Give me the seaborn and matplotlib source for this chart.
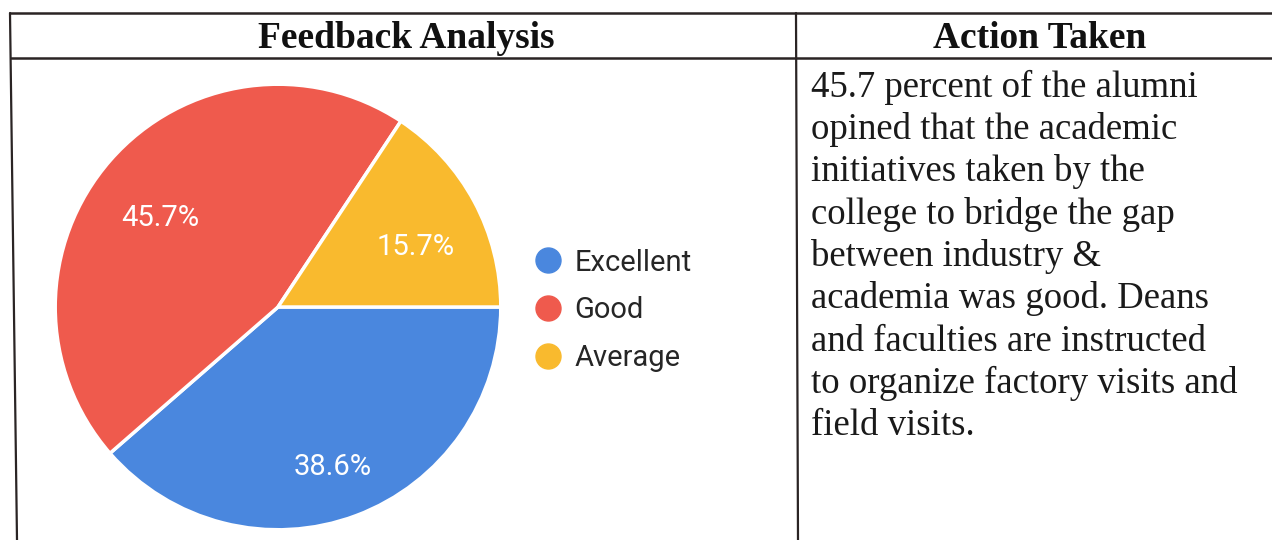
import matplotlib
matplotlib.use("Agg")
import matplotlib.pyplot as plt
from matplotlib.lines import Line2D
import seaborn as sns

# ---- data ----
categories = ["Excellent", "Good", "Average"]
values = [38.6, 45.7, 15.7]
colors = ["#4a87de", "#ef5a4d", "#f9ba2e"]
header_left = "Feedback Analysis"
header_right = "Action Taken"
action_lines = [
    "45.7 percent of the alumni",
    "opined that the academic",
    "initiatives taken by the",
    "college to bridge the gap",
    "between industry &",
    "academia was good. Deans",
    "and faculties are instructed",
    "to organize factory visits and",
    "field visits.",
]

sns.set_theme(style="white")
plt.rcParams["font.family"] = ["Roboto", "DejaVu Sans"]

W, H = 1272, 540
fig = plt.figure(figsize=(W / 100, H / 100), dpi=100)
fig.patch.set_facecolor("white")

def px(x, y):
    return x / W, 1 - y / H

# ---- table lines ----
lc = "#2a2424"
for (x0, y0), (x1, y1), lw in [
    ((10, 13), (1272, 13), 1.8),
    ((11, 58), (1272, 58), 1.8),
    ((10, 13), (17, 540), 1.6),
    ((796, 13), (798, 540), 1.6),
]:
    a, b = px(x0, y0)
    c, d = px(x1, y1)
    fig.add_artist(Line2D([a, c], [b, d], color=lc, lw=lw, transform=fig.transFigure))

# ---- headers ----
fig.text(*px(406, 39), header_left, ha="center", va="center",
         family="Liberation Serif", weight="bold", fontsize=27, color="#111111")
fig.text(*px(1040, 39), header_right, ha="center", va="center",
         family="Liberation Serif", weight="bold", fontsize=27, color="#111111")

# ---- body text ----
y0, dy = 87, 42.4
for i, line in enumerate(action_lines):
    fig.text(*px(811, y0 + i * dy), line, ha="left", va="center",
             family="Liberation Serif", fontsize=26.5, color="#1a1a1a")

# ---- pie ----
cx, cy, r = 278, 307, 225
ax = fig.add_axes([(cx - r) / W, (H - cy - r) / H, 2 * r / W, 2 * r / H])
wedges, texts, autotexts = ax.pie(
    values, colors=colors, startangle=0, counterclock=False, radius=1,
    autopct="%.1f%%", pctdistance=0.7,
    wedgeprops=dict(edgecolor="white", linewidth=2.5),
    textprops=dict(color="white", fontsize=21, family="Roboto"),
)
for t in autotexts:
    t.set_va("top")
ax.set_xlim(-1.01, 1.01)
ax.set_ylim(-1.01, 1.01)
ax.set_axis_off()

handles = [Line2D([0], [0], marker="o", linestyle="", markersize=18,
                  markerfacecolor=c, markeredgecolor=c) for c in colors]
fig.legend(handles, categories, loc="upper left",
           bbox_to_anchor=px(516, 234), frameon=False,
           labelspacing=0.68, handletextpad=0.3,
           handlelength=1.2, borderpad=0, prop=dict(family="Roboto", size=21))

fig.savefig("out.png", dpi=100, facecolor="white")
